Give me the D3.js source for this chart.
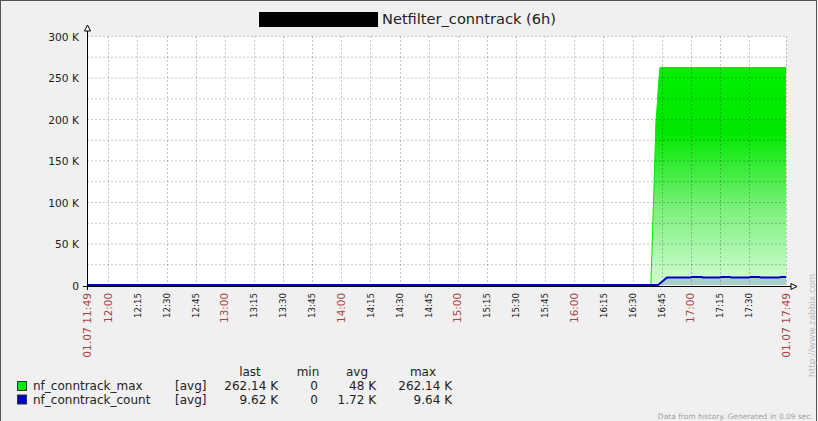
<!DOCTYPE html>
<html><head><meta charset="utf-8">
<script src="https://cdn.jsdelivr.net/npm/d3@7"></script>
<style>
html,body{margin:0;padding:0;background:#f0f0f0;}
svg{display:block;font-family:"DejaVu Sans",sans-serif;}
</style></head>
<body>
<svg id="chart" width="818" height="421"></svg>
<script>
// ---- data ----
const titleText = "Netfilter_conntrack (6h)";
const startTime = "11:49:00";
const endTime = "17:49:00";
const maxTimes  = ["11:49:00","16:39:24","16:39:54","16:41:00","16:41:30","16:42:00","16:42:42","16:43:12","16:44:06","17:49:00"];
const maxValues = [0, 0, 37000, 118000, 157000, 197000, 217000, 238000, 262140, 262140];
const countTimes  = ["11:49:00","16:43:06","16:47:42","16:59:54","17:00:36","17:05:36","17:06:12","17:14:42","17:15:54","17:20:12","17:21:00","17:29:54","17:30:48","17:35:06","17:36:00","17:45:24","17:46:18","17:49:00"];
const countValues = [0, 0, 9000, 9000, 9600, 9600, 9000, 9000, 9500, 9500, 9000, 9000, 9600, 9600, 9000, 9000, 9640, 9620];
const yTickValues = [0, 50000, 100000, 150000, 200000, 250000, 300000];
const yTickLabels = ["0", "50 K", "100 K", "150 K", "200 K", "250 K", "300 K"];
const xTickTimes = ["12:00","12:15","12:30","12:45","13:00","13:15","13:30","13:45","14:00","14:15","14:30","14:45","15:00","15:15","15:30","15:45","16:00","16:15","16:30","16:45","17:00","17:15","17:30"];
const xEndLabels = ["01.07 11:49", "01.07 17:49"];
const legendNames = ["nf_conntrack_max", "nf_conntrack_count"];
const legendFunc = ["[avg]", "[avg]"];
const legendLast = ["262.14 K", "9.62 K"];
const legendMin = ["0", "0"];
const legendAvg = ["48 K", "1.72 K"];
const legendMax = ["262.14 K", "9.64 K"];
const footerText = "Data from history. Generated in 0.09 sec.";
const watermark = "http://www.zabbix.com";

// ---- setup ----
const parse = d3.timeParse("%H:%M:%S");
const parseHM = d3.timeParse("%H:%M");
const svg = d3.select("#chart");
const L = 87, R = 786, T = 36, B = 285;
const x = d3.scaleTime().domain([parse(startTime), parse(endTime)]).range([L, R]);
const y = d3.scaleLinear().domain([0, 300000]).range([B, T]);
const red = "#aa4444";

// background + frame
svg.append("rect").attr("x",0).attr("y",0).attr("width",818).attr("height",421).attr("fill","#f0f0f0");
svg.append("rect").attr("x",0.5).attr("y",0.5).attr("width",816).attr("height",440)
  .attr("fill","none").attr("stroke","#555").attr("stroke-width",1);

// title
svg.append("rect").attr("x",259).attr("y",12).attr("width",119).attr("height",15).attr("fill","#000");
svg.append("text").attr("x",382).attr("y",24).attr("font-size",14.6).attr("fill","#222").text(titleText);

// plot bg
svg.append("rect").attr("x",L).attr("y",T).attr("width",R-L).attr("height",B-T).attr("fill","#fff");

// gradient
const defs = svg.append("defs");
const grad = defs.append("linearGradient").attr("id","gg").attr("gradientUnits","userSpaceOnUse")
  .attr("x1",0).attr("x2",0).attr("y1",y(262140)).attr("y2",B);
grad.append("stop").attr("offset","0").attr("stop-color","#00ee00");
grad.append("stop").attr("offset","0.3").attr("stop-color","#00e800");
grad.append("stop").attr("offset","0.65").attr("stop-color","#7cf07c");
grad.append("stop").attr("offset","1").attr("stop-color","#d4fcd4");

const maxData = maxTimes.map((t,i)=>({t:parse(t), v:maxValues[i]}));
const countData = countTimes.map((t,i)=>({t:parse(t), v:countValues[i]}));

const area = d3.area().x(d=>x(d.t)).y0(B).y1(d=>y(d.v));
const line = d3.line().x(d=>x(d.t)).y(d=>y(d.v));

svg.append("path").datum(maxData).attr("d",area).attr("fill","url(#gg)");
svg.append("path").datum(maxData.filter(d=>d.v>0 || d.t>=parse("16:39:00")))
  .attr("d",line).attr("fill","none").attr("stroke","#00ee00").attr("stroke-width",1);
svg.append("path").datum(countData).attr("d",area).attr("fill","#a9cfcc");

// grid
const gridColor = "rgba(0,0,0,0.22)";
for (let v = 25000; v <= 300000; v += 25000) {
  svg.append("line").attr("x1",L).attr("x2",R).attr("y1",y(v)+0.5).attr("y2",y(v)+0.5)
    .attr("stroke",gridColor).attr("stroke-dasharray","2,2");
}
xTickTimes.forEach(t=>{
  const xx = Math.round(x(parseHM(t)))+0.5;
  svg.append("line").attr("x1",xx).attr("x2",xx).attr("y1",T).attr("y2",B)
    .attr("stroke",gridColor).attr("stroke-dasharray","2,2");
});
svg.append("line").attr("x1",R+0.5).attr("x2",R+0.5).attr("y1",T).attr("y2",B)
  .attr("stroke",gridColor).attr("stroke-dasharray","2,2");

// blue line
svg.append("path").datum(countData).attr("d",line).attr("fill","none")
  .attr("stroke","#0000cc").attr("stroke-width",2);

// axes
svg.append("line").attr("x1",L+0.5).attr("x2",L+0.5).attr("y1",290).attr("y2",30).attr("stroke","#000");
svg.append("polygon").attr("points",`${L-2.5},31 ${L+3.5},31 ${L+0.5},25`).attr("fill","#fff").attr("stroke","#000");
svg.append("line").attr("x1",83).attr("x2",791).attr("y1",286.5).attr("y2",286.5).attr("stroke","#000");
svg.append("polygon").attr("points",`791,283.5 791,289.5 797,286.5`).attr("fill","#fff").attr("stroke","#000");

// y labels
yTickValues.forEach((v,i)=>{
  svg.append("text").attr("x",79).attr("y",y(v)+1).attr("dy","0.35em").attr("text-anchor","end")
    .attr("font-size",10.7).attr("fill","#222").text(yTickLabels[i]);
});

// x labels
function vlabel(xx, txt, color, size){
  svg.append("text").attr("transform",`translate(${xx},293) rotate(-90)`).attr("dy","0.35em")
    .attr("text-anchor","end").attr("font-size",size).attr("fill",color).text(txt);
}
xTickTimes.forEach(t=>{
  const d = parseHM(t);
  const isHour = d.getMinutes()===0;
  vlabel(x(d), t, isHour?red:"#222", isHour?10.4:8.7);
});
vlabel(x(parse(startTime)), xEndLabels[0], red, 10.7);
vlabel(x(parse(endTime)), xEndLabels[1], red, 10.7);

// legend
const lg = svg.append("g").attr("font-size",12).attr("fill","#222");
[["last",250],["min",308],["avg",357],["max",423]].forEach(h=>{
  lg.append("text").attr("x",h[1]).attr("y",376).attr("text-anchor","middle").text(h[0]);
});
const colors = ["#00ee00","#0000cc"];
legendNames.forEach((n,i)=>{
  const by = 390 + i*13.5;
  lg.append("rect").attr("x",17.5).attr("y",by-8.5).attr("width",9).attr("height",9)
    .attr("fill",colors[i]).attr("stroke","#333");
  lg.append("text").attr("x",33).attr("y",by).text(n);
  lg.append("text").attr("x",175).attr("y",by).text(legendFunc[i]);
  lg.append("text").attr("x",278).attr("y",by).attr("text-anchor","end").text(legendLast[i]);
  lg.append("text").attr("x",318).attr("y",by).attr("text-anchor","end").text(legendMin[i]);
  lg.append("text").attr("x",376).attr("y",by).attr("text-anchor","end").text(legendAvg[i]);
  lg.append("text").attr("x",452).attr("y",by).attr("text-anchor","end").text(legendMax[i]);
});

// footer + watermark
svg.append("text").attr("x",813).attr("y",419).attr("text-anchor","end").attr("font-size",7.5)
  .attr("fill","#a0a0a0").text(footerText);
svg.append("text").attr("transform","translate(812,377) rotate(-90)").attr("dy","0.35em")
  .attr("font-size",9).attr("fill","#bbbbbb").text(watermark);
</script>
</body></html>
